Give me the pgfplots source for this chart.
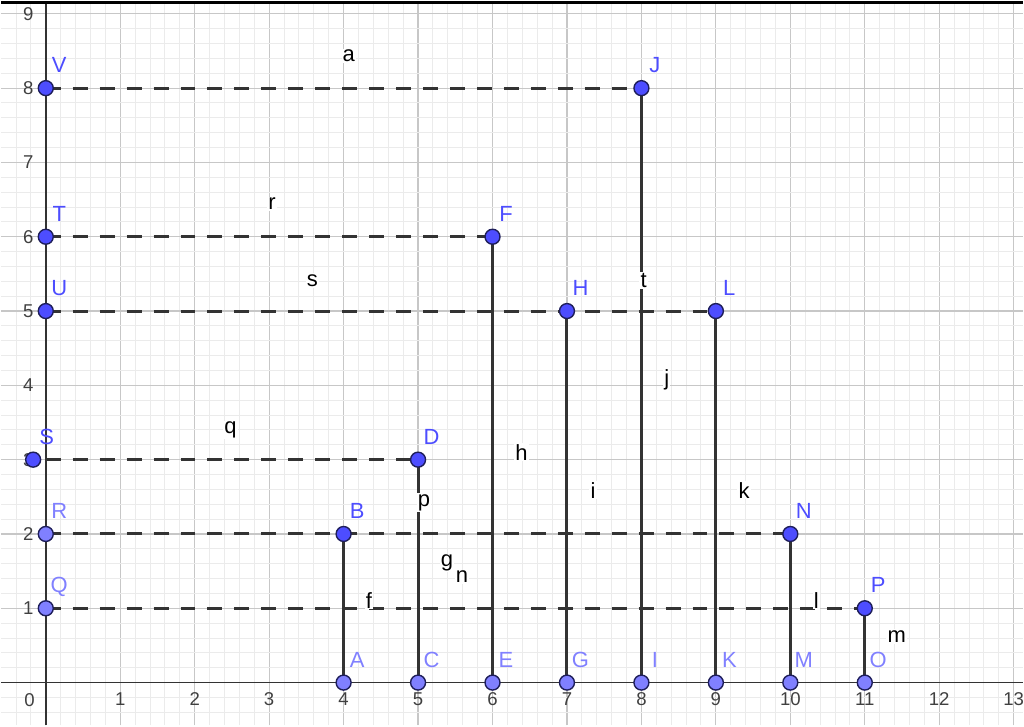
\documentclass[border=0pt]{standalone}
\usepackage{pgfplots}
\pgfplotsset{compat=1.18}
\usepackage{fontspec}
\setmainfont{Liberation Sans}

\definecolor{ptdark}{RGB}{77,77,255}
\definecolor{ptlight}{RGB}{128,128,255}
\definecolor{ptedge}{RGB}{30,30,90}
\definecolor{segline}{RGB}{51,51,51}

\newcommand{\ptfont}{\fontsize{11bp}{13bp}\selectfont}
\newcommand{\tkfont}{\fontsize{9.3bp}{11bp}\selectfont}

\pgfplotsset{
  solidseg/.style={segline, line width=1.5bp, forget plot},
  dashseg/.style={segline, line width=1.5bp, dash pattern=on 7.5bp off 6bp, forget plot},
}
\tikzset{
  seglab/.style={font=\ptfont, text=black, fill=white, inner sep=0.6bp},
}

\begin{document}
\begin{tikzpicture}
\begin{axis}[
  scale only axis, width=512bp, height=363bp,
  xmin=-0.603, xmax=13.123, ymin=-0.577, ymax=9.174,
  axis lines=middle,
  axis line style={-, draw=black!80, line width=0.9bp},
  xtick={0,...,13}, ytick={0,...,9},
  xticklabels={,1,2,3,4,5,6,7,8,9,10,11,12,13},
  yticklabels={,1,2,3,4,5,6,7,8,9},
  minor xtick={-0.4,-0.2,...,13.1},
  minor ytick={-0.4,-0.2,...,9.1},
  grid=both,
  major grid style={draw=black!22, line width=0.6bp},
  minor grid style={draw=black!8, line width=0.5bp},
  major tick length=0pt, minor tick length=0pt,
  /pgf/number format/assume math mode=true,
  xticklabel style={font=\tkfont, text=black!75, anchor=north, inner sep=0pt, yshift=-5bp},
  yticklabel style={font=\tkfont, text=black!75, anchor=east, inner sep=0pt, xshift=-6bp},
]

% horizontal dashed segments from the y axis
\addplot[dashseg] coordinates {(0,1) (11,1)};
\addplot[dashseg] coordinates {(0,2) (10,2)};
\addplot[dashseg] coordinates {(0,3) (5,3)};
\addplot[dashseg] coordinates {(0,5) (9,5)};
\addplot[dashseg] coordinates {(0,6) (6,6)};
\addplot[dashseg] coordinates {(0,8) (8,8)};

% vertical solid segments from the x axis
\addplot[solidseg] coordinates {(4,0) (4,2)};
\addplot[solidseg] coordinates {(5,0) (5,3)};
\addplot[solidseg] coordinates {(6,0) (6,6)};
\addplot[solidseg] coordinates {(7,0) (7,5)};
\addplot[solidseg] coordinates {(8,0) (8,8)};
\addplot[solidseg] coordinates {(9,0) (9,5)};
\addplot[solidseg] coordinates {(10,0) (10,2)};
\addplot[solidseg] coordinates {(11,0) (11,1)};

% segment names
\node[seglab] at (axis cs:4.07,8.43) {a};
\node[seglab] at (axis cs:3.04,6.44) {r};
\node[seglab] at (axis cs:3.58,5.41) {s};
\node[seglab] at (axis cs:2.48,3.40) {q};
\node[seglab] at (axis cs:6.39,3.10) {h};
\node[seglab] at (axis cs:5.08,2.42) {p};
\node[seglab] at (axis cs:7.35,2.59) {i};
\node[seglab] at (axis cs:8.03,5.41) {t};
\node[seglab] at (axis cs:8.34,4.07) {j};
\node[seglab] at (axis cs:9.38,2.59) {k};
\node[seglab] at (axis cs:5.39,1.61) {g};
\node[seglab] at (axis cs:5.59,1.42) {n};
\node[seglab] at (axis cs:4.34,1.11) {f};
\node[seglab] at (axis cs:10.35,1.11) {l};
\node[seglab] at (axis cs:11.43,0.62) {m};

% free points
\addplot[only marks, mark=*, mark size=3.75bp,
  mark options={fill=ptdark, draw=ptedge, line width=0.7bp},
  point meta=explicit symbolic, nodes near coords,
  nodes near coords style={font=\ptfont, text=ptdark, anchor=base, inner sep=0pt, xshift=6.75bp, yshift=7.75bp}]
  table[meta=lab] {
x y lab
4 2 B
5 3 D
6 6 F
7 5 H
8 8 J
9 5 L
10 2 N
11 1 P
-0.17 3 S
0 6 T
0 5 U
0 8 V
};

% points on the axes
\addplot[only marks, mark=*, mark size=3.75bp,
  mark options={fill=ptlight, draw=ptedge, line width=0.7bp},
  point meta=explicit symbolic, nodes near coords,
  nodes near coords style={font=\ptfont, text=ptlight, anchor=base, inner sep=0pt, xshift=6.75bp, yshift=7.75bp}]
  table[meta=lab] {
x y lab
4 0 A
5 0 C
6 0 E
7 0 G
8 0 I
9 0 K
10 0 M
11 0 O
0 1 Q
0 2 R
};

% origin label and top frame line
\node[font=\tkfont, text=black!75] at (axis cs:-0.22,-0.23) {0};
\draw[black, line width=1.5bp] ([yshift=-0.75bp]rel axis cs:0,1) -- ([yshift=-0.75bp]rel axis cs:1,1);
\end{axis}
\end{tikzpicture}
\end{document}
